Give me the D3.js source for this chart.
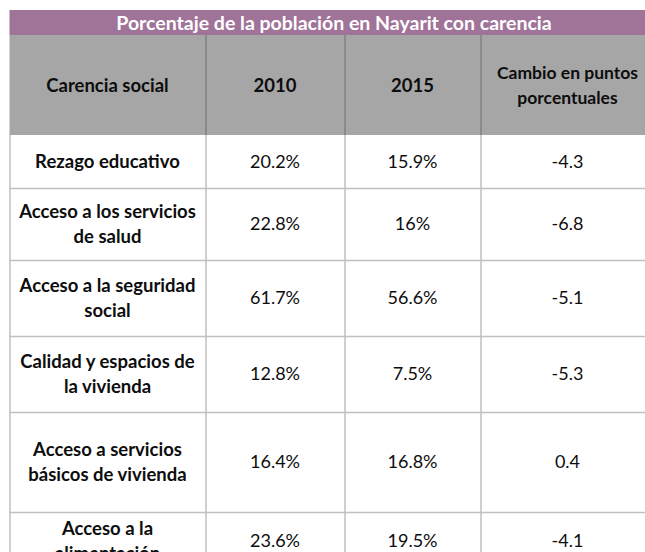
<!DOCTYPE html>
<html><head><meta charset="utf-8">
<script src="https://cdn.jsdelivr.net/npm/d3@7"></script>
<style>html,body{margin:0;padding:0;background:#fff;overflow:hidden}</style>
</head><body>
<svg id="c" width="645" height="552"></svg>
<script>
const title = "Porcentaje de la población en Nayarit con carencia";
const headers = [["Carencia social"], ["2010"], ["2015"], ["Cambio en puntos", "porcentuales"]];
const categories = [
  ["Rezago educativo"],
  ["Acceso a los servicios", "de salud"],
  ["Acceso a la seguridad", "social"],
  ["Calidad y espacios de", "la vivienda"],
  ["Acceso a servicios", "básicos de vivienda"],
  ["Acceso a la", "alimentación"]
];
const v2010 = [20.2, 22.8, 61.7, 12.8, 16.4, 23.6];
const v2015 = [15.9, 16, 56.6, 7.5, 16.8, 19.5];
const change = [-4.3, -6.8, -5.1, -5.3, 0.4, -4.1];

const colEdges = [0, 196, 335, 471, 645];
const rowEdges = [0, 25, 125, 178, 250, 326, 402, 502, 560];

const svg = d3.select("#c");
const x = d3.scaleLinear().domain([0, 645]).range([9.5, 654.5]);
const y = d3.scaleLinear().domain([0, 560]).range([10, 570]);
const font = "Lato, 'Open Sans', sans-serif";

// title band
svg.append("rect").attr("x", x(0)).attr("y", y(rowEdges[0]))
  .attr("width", x(645) - x(0)).attr("height", y(rowEdges[1]) - y(rowEdges[0]))
  .attr("fill", "#A07399");
svg.append("text").attr("x", (x(0) + x(645)) / 2 + 2).attr("y", (y(rowEdges[0]) + y(rowEdges[1])) / 2)
  .attr("dy", "0.36em").attr("text-anchor", "middle").attr("fill", "#fff")
  .attr("font-family", font).attr("font-weight", "bold").attr("font-size", 19.5).text(title);

// header band
svg.append("rect").attr("x", x(0)).attr("y", y(rowEdges[1]))
  .attr("width", x(645) - x(0)).attr("height", y(rowEdges[2]) - y(rowEdges[1]))
  .attr("fill", "#A6A6A6");

// body grid lines
const bodyRows = rowEdges.slice(2);
svg.selectAll("line.h").data(bodyRows.slice(1, -1)).enter().append("line")
  .attr("x1", x(0)).attr("x2", x(645)).attr("y1", d => y(d) + 0.5).attr("y2", d => y(d) + 0.5)
  .attr("stroke", "#BFBFBF").attr("stroke-width", 1.5);
svg.selectAll("line.vb").data(colEdges.slice(0, -1)).enter().append("line")
  .attr("x1", d => x(d) + 0.5).attr("x2", d => x(d) + 0.5)
  .attr("y1", y(rowEdges[2])).attr("y2", 552)
  .attr("stroke", "#BFBFBF").attr("stroke-width", 1.5);
svg.selectAll("line.vh").data(colEdges.slice(1, -1)).enter().append("line")
  .attr("x1", d => x(d) + 0.5).attr("x2", d => x(d) + 0.5)
  .attr("y1", y(rowEdges[1])).attr("y2", y(rowEdges[2]))
  .attr("stroke", "#808080").attr("stroke-width", 1.5);

function cellText(lines, ci, top, bot, weight, size) {
  const cx = (x(colEdges[ci]) + x(colEdges[ci + 1])) / 2;
  const cy = (y(top) + y(bot)) / 2;
  const lh = 25;
  const t = svg.append("text").attr("text-anchor", "middle").attr("fill", "#0d0d0d")
    .attr("font-family", font).attr("font-size", size).attr("font-weight", weight);
  lines.forEach((l, i) => {
    t.append("tspan").attr("x", cx).attr("y", cy + (i - (lines.length - 1) / 2) * lh).attr("dy", "0.36em").text(l);
  });
}
headers.forEach((h, i) => cellText(h, i, rowEdges[1], rowEdges[2], "bold", i === 3 ? 17.5 : 18.5));
categories.forEach((c, r) => {
  const top = rowEdges[r + 2], bot = rowEdges[r + 3];
  cellText(c, 0, top, bot, "bold", 18.5);
  cellText([v2010[r] + "%"], 1, top, bot, "normal", 18);
  cellText([v2015[r] + "%"], 2, top, bot, "normal", 18);
  cellText([String(change[r])], 3, top, bot, "normal", 18);
});
</script>
</body></html>
